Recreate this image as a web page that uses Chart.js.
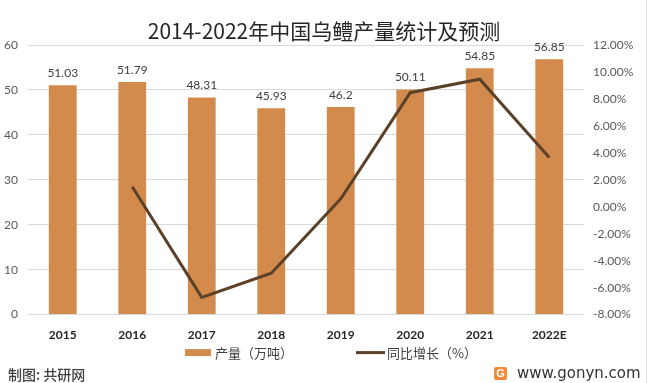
<!DOCTYPE html>
<html><head><meta charset="utf-8">
<script src="https://cdn.jsdelivr.net/npm/chart.js@4/dist/chart.umd.min.js"></script>
<style>
html,body{margin:0;padding:0;background:#fff;}
#wrap{position:relative;width:648px;height:383px;overflow:hidden;background:#fff;}
#c{position:absolute;left:0;top:0;}
#title{position:absolute;left:0;top:17px;width:648px;text-align:center;font:21px "Noto Sans CJK SC","Noto Sans",sans-serif;color:#262626;line-height:26px;white-space:nowrap;}
#src{position:absolute;left:8px;top:365px;font:500 14px "Noto Sans CJK SC",sans-serif;color:#404040;line-height:19px;}
#site{position:absolute;left:517px;top:364px;font:15px "DejaVu Sans",sans-serif;color:#333;line-height:18px;}
#icon{position:absolute;left:494px;top:367px;width:13px;height:13px;background:#F08A3C;border-radius:2px;color:#fff;font:bold 11px "Liberation Sans",sans-serif;text-align:center;line-height:13px;}
#edge{position:absolute;right:1px;top:0;width:1px;height:383px;background:#d9d9d9;}
</style></head>
<body>
<div id="wrap">
<canvas id="c" width="648" height="383"></canvas>
<div id="title">2014-2022年中国乌鳢产量统计及预测</div>
<div id="src">制图: 共研网</div>
<div id="icon">G</div>
<div id="site">www.gonyn.com</div>
<div id="edge"></div>
</div>
<script>
const categories = ['2015','2016','2017','2018','2019','2020','2021','2022E'];
const production = [51.03, 51.79, 48.31, 45.93, 46.2, 50.11, 54.85, 56.85];
const growth = [null, 1.49, -6.72, -4.93, 0.59, 8.46, 9.46, 3.65];
const leftTicks = [0, 10, 20, 30, 40, 50, 60];
const rightTicks = [-8, -6, -4, -2, 0, 2, 4, 6, 8, 10, 12];
const seriesNames = ['产量（万吨）', '同比增长（%）'];

const barColor = '#D38B4D';
const lineColor = '#5C4129';
const tickColor = '#595959';
const gridColor = '#D9D9D9';
const numFont = 'Lato, "Liberation Sans", sans-serif';
const cjkFont = '"Noto Sans CJK SC", sans-serif';

const labelPlugin = {
  id: 'barLabels',
  afterDatasetsDraw(chart) {
    const ctx = chart.ctx;
    const meta = chart.getDatasetMeta(0);
    ctx.save();
    ctx.font = '12px ' + numFont;
    ctx.fillStyle = '#404040';
    ctx.textAlign = 'center';
    ctx.textBaseline = 'bottom';
    meta.data.forEach((bar, i) => {
      ctx.fillText(String(production[i]), bar.x, bar.y - 6);
    });
    ctx.restore();
  }
};

// Legend drawn below the x axis, with the wide item gap of the original
const legendPlugin = {
  id: 'wideLegend',
  afterDraw(chart) {
    const ctx = chart.ctx;
    ctx.save();
    ctx.font = '13px ' + cjkFont;
    ctx.textBaseline = 'middle';
    ctx.textAlign = 'left';
    const w1 = ctx.measureText(seriesNames[0]).width;
    const w2 = ctx.measureText(seriesNames[1]).width;
    const box = 26, lineW = 29, gapText = 4, gapItems = 63;
    const total = box + gapText + w1 + gapItems + lineW + 2 + w2;
    const cy = chart.chartArea.bottom + 38;
    let x = 331 - total / 2;
    ctx.fillStyle = barColor;
    ctx.fillRect(x, cy - 3.5, box, 7);
    x += box + gapText;
    ctx.fillStyle = '#404040';
    ctx.fillText(seriesNames[0], x, cy);
    x += w1 + gapItems;
    ctx.strokeStyle = lineColor;
    ctx.lineWidth = 3;
    ctx.beginPath();
    ctx.moveTo(x, cy);
    ctx.lineTo(x + lineW, cy);
    ctx.stroke();
    x += lineW + 2;
    ctx.fillText(seriesNames[1], x, cy);
    ctx.restore();
  }
};

new Chart(document.getElementById('c'), {
  data: {
    labels: categories,
    datasets: [
      { type: 'bar', label: seriesNames[0], data: production, backgroundColor: barColor,
        yAxisID: 'y', order: 2, categoryPercentage: 1.0, barPercentage: 0.4 },
      { type: 'line', label: seriesNames[1], data: growth, borderColor: lineColor, backgroundColor: lineColor,
        borderWidth: 3, pointRadius: 0, yAxisID: 'y1', order: 1, tension: 0, spanGaps: false }
    ]
  },
  options: {
    responsive: false,
    animation: false,
    devicePixelRatio: 1,
    layout: { padding: { top: 45, left: 0, right: 0, bottom: 28 } },
    plugins: {
      title: { display: false },
      tooltip: { enabled: false },
      legend: { display: false }
    },
    scales: {
      x: {
        grid: { display: false, drawTicks: false },
        border: { display: false },
        ticks: { color: '#262626', font: { size: 12, family: numFont, weight: 'bold' }, padding: 13 }
      },
      y: {
        position: 'left',
        min: 0, max: 60,
        afterBuildTicks(s) { s.ticks = leftTicks.map(v => ({ value: v })); },
        afterFit(s) { s.width = 28; },
        grid: { color: gridColor, drawTicks: false, lineWidth: 1 },
        border: { display: false },
        ticks: { color: tickColor, font: { size: 12, family: numFont }, padding: 10 }
      },
      y1: {
        position: 'right',
        min: -8, max: 12,
        afterBuildTicks(s) { s.ticks = rightTicks.map(v => ({ value: v })); },
        afterFit(s) { s.width = 64; },
        grid: { display: false, drawTicks: false },
        border: { display: false },
        ticks: { color: tickColor, font: { size: 12, family: numFont }, padding: 9,
          callback: v => v.toFixed(2) + '%' }
      }
    }
  },
  plugins: [labelPlugin, legendPlugin]
});
</script>
</body></html>
